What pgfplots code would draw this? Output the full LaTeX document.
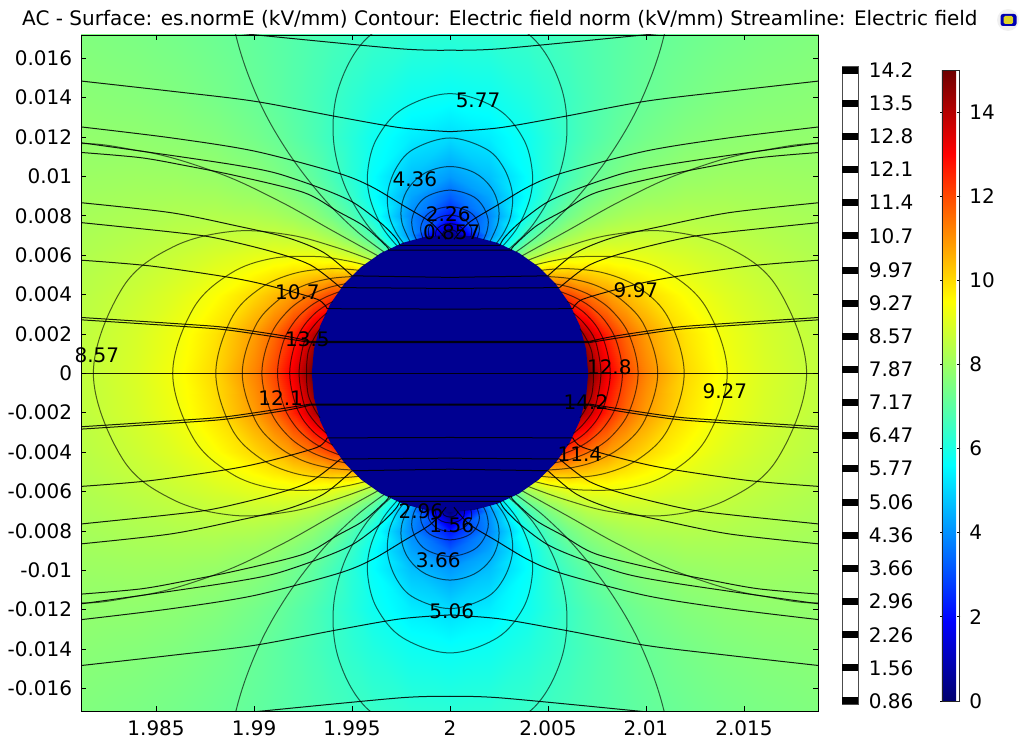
\documentclass[border=0pt]{standalone}
\usepackage{fontspec}
\setmainfont{DejaVu Sans}
\usepackage{pgfplots}
\usepackage{pgfplotstable}
\pgfplotsset{compat=1.18}
\definecolor{discblue}{RGB}{0,0,145}
\pgfplotstableread{
x y v
0 0 0
2 0 0
4 0 0
5 0 0
6 0 17.71
7 0 15
8 0 13.24
9 0 12.04
10 0 11.18
12 0 10.05
14 0 9.38
16 0 8.94
18.9 0 8.54
0 2 0
2 2 0
4 2 0
5 2 18.8
6 2 15.84
7 2 13.88
8 2 12.53
9 2 11.56
10 2 10.85
12 2 9.88
14 2 9.28
16 2 8.88
18.9 2 8.51
0 4 0
2 4 0
4 4 13.7
5 4 12.89
6 4 12.12
7 4 11.46
8 4 10.90
9 4 10.43
10 4 10.03
12 4 9.44
14 4 9.02
16 4 8.72
18.9 4 8.42
0 5 0
2 5 8.9
4 5 10.35
5 5 10.5
6 5 10.43
7 5 10.25
8 5 10.02
9 5 9.79
10 5 9.56
12 5 9.16
14 5 8.85
16 5 8.61
18.9 5 8.36
0 6 0
2 6 5.52
4 6 8.09
5 6 8.73
6 6 9.07
7 6 9.21
8 6 9.23
9 6 9.18
10 6 9.09
12 6 8.88
14 6 8.67
16 6 8.49
18.9 6 8.29
0 7 0
2 7 4.0
4 7 6.72
5 7 7.53
6 7 8.06
7 7 8.39
8 7 8.56
9 7 8.64
10 7 8.66
12 7 8.60
14 7 8.49
16 7 8.36
18.9 7 8.21
0 8 2.2
2 8 3.9
4 8 6.0
5 8 6.79
6 8 7.37
7 8 7.77
8 8 8.03
9 8 8.19
10 8 8.29
12 8 8.34
14 8 8.31
16 8 8.24
18.9 8 8.14
0 9 3.3
2 9 4.3
4 9 5.70
5 9 6.39
6 9 6.93
7 9 7.34
8 9 7.63
9 9 7.84
10 9 7.97
12 9 8.11
14 9 8.14
16 9 8.12
18.9 9 8.06
0 10 4.15
2 10 4.7
4 10 5.65
5 10 6.20
6 10 6.67
7 10 7.05
8 10 7.34
9 10 7.56
10 10 7.72
12 10 7.91
14 10 7.99
16 10 8.01
18.9 10 7.98
0 12 5.1
2 12 5.35
4 12 5.83
5 12 6.17
6 12 6.48
7 12 6.77
8 12 7.01
9 12 7.22
10 12 7.38
12 12 7.61
14 12 7.74
16 12 7.81
18.9 12 7.84
0 14 5.7
2 14 5.8
4 14 6.10
5 14 6.30
6 14 6.51
7 14 6.71
8 14 6.89
9 14 7.05
10 14 7.19
12 14 7.41
14 14 7.56
16 14 7.65
18.9 14 7.72
0 17.3 6.26
2 17.3 6.31
4 17.3 6.46
5 17.3 6.56
6 17.3 6.67
7 17.3 6.78
8 17.3 6.89
9 17.3 6.99
10 17.3 7.09
12 17.3 7.25
14 17.3 7.38
16 17.3 7.48
18.9 17.3 7.57
}\heat
\pgfplotstableread{
x y
6.63 -2.26
6.90 -1.85
7.20 -1.21
7.30 -0.62
7.32 0
7.30 0.62
7.20 1.21
6.90 1.85
6.63 2.26
nan nan
6.30 -3.05
6.77 -2.62
7.30 -1.91
7.55 -1.15
7.70 0
7.55 1.15
7.30 1.91
6.77 2.62
6.30 3.05
nan nan
5.97 -3.65
6.49 -3.35
7.00 -2.94
7.55 -2.27
7.95 -1.36
8.18 0
7.95 1.36
7.55 2.27
7.00 2.94
6.49 3.35
5.97 3.65
nan nan
5.65 -4.14
6.40 -3.84
7.17 -3.38
7.90 -2.68
8.50 -1.61
8.80 0
8.50 1.61
7.90 2.68
7.17 3.38
6.40 3.84
5.65 4.14
nan nan
5.32 -4.55
6.23 -4.34
7.26 -3.91
8.28 -3.16
9.15 -1.93
9.60 0
9.15 1.93
8.28 3.16
7.26 3.91
6.23 4.34
5.32 4.55
nan nan
4.99 -4.91
6.18 -4.80
7.55 -4.42
8.85 -3.65
9.95 -2.36
10.60 0
9.95 2.36
8.85 3.65
7.55 4.42
6.18 4.80
4.99 4.91
nan nan
4.65 -5.23
6.09 -5.31
7.96 -5.07
9.72 -4.29
11.15 -2.79
11.95 0
11.15 2.79
9.72 4.29
7.96 5.07
6.09 5.31
4.65 5.23
nan nan
4.33 -5.50
5.34 -5.73
6.82 -5.93
9.10 -5.83
11.20 -5.07
13.10 -3.29
14.15 0
13.10 3.29
11.20 5.07
9.10 5.83
6.82 5.93
5.34 5.73
4.33 5.50
nan nan
4.00 -5.75
5.86 -6.41
8.21 -7.03
11.09 -7.21
14.15 -6.41
16.70 -4.36
18.20 0
16.70 4.36
14.15 6.41
11.09 7.21
8.21 7.03
5.86 6.41
4.00 5.75
}\contoursH
\pgfplotstableread{
x y
-2.69 6.46
-3.48 7.46
-4.09 8.92
-4.19 10.33
-3.72 11.95
-2.40 13.44
0 14.2
2.40 13.44
3.72 11.95
4.19 10.33
4.09 8.92
3.48 7.46
2.69 6.46
nan nan
-2.36 6.59
-2.78 7.20
-3.11 8.04
-3.17 9.23
-2.70 10.5
-1.81 11.41
0 11.95
1.81 11.41
2.70 10.5
3.17 9.23
3.11 8.04
2.78 7.20
2.36 6.59
nan nan
-2.04 6.70
-2.45 7.64
-2.46 8.56
-2.08 9.46
-1.24 10.19
0 10.5
1.24 10.19
2.08 9.46
2.46 8.56
2.45 7.64
2.04 6.70
nan nan
-1.71 6.79
-1.89 7.22
-1.94 7.84
-1.63 8.56
-1.06 9.04
0 9.3
1.06 9.04
1.63 8.56
1.94 7.84
1.89 7.22
1.71 6.79
nan nan
-1.38 6.86
-1.50 7.32
-1.35 7.83
-0.89 8.25
0 8.46
0.89 8.25
1.35 7.83
1.50 7.32
1.38 6.86
nan nan
-1.06 6.92
-1.11 7.22
-1.03 7.50
-0.64 7.88
0 8.03
0.64 7.88
1.03 7.50
1.11 7.22
1.06 6.92
nan nan
-0.73 6.96
-0.71 7.25
-0.45 7.50
0 7.60
0.45 7.50
0.71 7.25
0.73 6.96
nan nan
-0.40 6.99
-0.31 7.20
0 7.30
0.31 7.20
0.40 6.99
}\contoursV
\pgfplotstableread{
x y
27.2 8.77
20.3 11.48
15.79 11.29
11.88 10.19
8.74 8.76
6.03 7.26
3.67 5.96
nan nan
10.15 26.7
11.39 20.36
10.89 17.02
9.77 13.89
8.30 11.28
6.51 8.95
4.79 7.24
3.35 6.15
nan nan
1.71 18.6
4.30 16.96
5.65 14.6
5.96 12.08
5.42 9.65
4.25 7.57
3.02 6.32
}\contoursQ
\pgfplotstableread{
x y
-11.0 17.3
-9.67 17.16
-2.53 16.48
0 16.41
nan nan
-18.9 14.85
-14.26 14.33
-10.01 13.82
-5.76 13.03
-2.53 12.47
0 12.27
nan nan
-18.9 12.52
-14.26 11.96
-10.01 11.29
-5.76 10.18
-4.05 9.50
-2.35 8.50
-0.98 7.66
-0.2 6.8
nan nan
-18.9 11.72
-14.26 11.07
-10.86 10.56
-8.82 10.15
-6.44 9.34
-4.91 8.66
-3.55 7.65
-2.78 6.89
-2.55 6.5
nan nan
-18.9 11.22
-15.79 10.95
-13.41 10.53
-10.86 10.02
-7.46 9.18
-5.76 8.24
-4.40 7.48
-3.25 6.46
-3.15 6.25
nan nan
-18.9 8.67
-14.26 8.16
-10.86 7.48
-8.31 6.89
-6.44 6.13
-5.0 4.95
nan nan
-18.9 7.66
-14.26 7.18
-12.05 6.89
-9.16 6.20
-7.12 5.50
-5.59 4.35
nan nan
-18.9 5.75
-15.28 5.45
-11.20 4.86
-9.16 4.43
-6.78 3.76
-6.27 3.28
nan nan
-18.9 2.84
-13.50 2.49
-11.37 2.32
-8.48 1.90
-7.12 1.62
nan nan
-18.9 2.72
-13.50 2.37
-11.37 2.20
-8.48 1.78
-7.12 1.56
}\streams
\pgfplotstableread{
x y
-2.55 6.5
0 6.5
nan nan
-3.15 6.25
0 6.25
nan nan
-5.0 4.95
0 4.87
nan nan
-5.59 4.35
0 4.31
nan nan
-6.27 3.28
0 3.26
nan nan
-7.12 1.62
0 1.62
nan nan
-7.12 1.56
0 1.56
}\chords
\begin{document}
\fontsize{20}{24}\selectfont
\begin{tikzpicture}
\path[use as bounding box] (0,0) rectangle (1023pt,745pt);
\node[anchor=base west,inner sep=0pt] at (22pt,719pt) {AC - Surface: es.normE (kV/mm) Contour: Electric field norm (kV/mm) Streamline: Electric field};
\begin{axis}[
  at={(81pt,34pt)},anchor=south west,scale only axis,width=737pt,height=676pt,
  xmin=-18.83,xmax=18.78,ymin=-17.15,ymax=17.18,
  axis on top,clip mode=individual,
  unbounded coords=jump,
  colormap={cmrainbow}{rgb255(0pt)=(0,0,110);rgb255(190pt)=(0,0,255);rgb255(560pt)=(0,255,255);rgb255(950pt)=(255,255,0);rgb255(1300pt)=(255,0,0);rgb255(1500pt)=(110,0,0)},
  point meta min=0,point meta max=15,
  tick align=inside,major tick length=5pt,
  tick style={black,line width=0.6pt},
  axis line style={black,line width=0.8pt},
  xtick={-15,-10,-5,0,5,10,15},
  xticklabels={1.985,1.99,1.995,2,2.005,2.01,2.015},
  ytick={-16,-14,-12,-10,-8,-6,-4,-2,0,2,4,6,8,10,12,14,16},
  yticklabels={-0.016,-0.014,-0.012,-0.01,-0.008,-0.006,-0.004,-0.002,0,0.002,0.004,0.006,0.008,0.01,0.012,0.014,0.016},
  xticklabel style={yshift=-3pt},
  yticklabel style={xshift=-2pt},
  colorbar,
  colorbar style={
    at={(1.1682,0.0149)},anchor=south west,
    width=17pt,height=631pt,
    ytick={0,2,4,6,8,10,12,14},
    yticklabels={0,2,4,6,8,10,12,14},
    major tick length=3pt,tick align=center,
    yticklabel style={xshift=2pt},
    axis line style={black!85,line width=0.8pt},
  },
]
\addplot[surf,shader=interp,mesh/rows=12,mesh/cols=13,point meta=\thisrow{v}] table[x expr=\thisrow{x},y expr=\thisrow{y}] {\heat};
\addplot[surf,shader=interp,mesh/rows=12,mesh/cols=13,point meta=\thisrow{v}] table[x expr=-\thisrow{x},y expr=\thisrow{y}] {\heat};
\addplot[surf,shader=interp,mesh/rows=12,mesh/cols=13,point meta=\thisrow{v}] table[x expr=\thisrow{x},y expr=-\thisrow{y}] {\heat};
\addplot[surf,shader=interp,mesh/rows=12,mesh/cols=13,point meta=\thisrow{v}] table[x expr=-\thisrow{x},y expr=-\thisrow{y}] {\heat};
\addplot[fill=discblue,draw=none] coordinates {
(7.05,0)(6.943,1.224)(6.625,2.411)(6.105,3.525)(5.401,4.532)(4.532,5.401)(3.525,6.105)(2.411,6.625)(1.224,6.943)
(0,7.05)(-1.224,6.943)(-2.411,6.625)(-3.525,6.105)(-4.532,5.401)(-5.401,4.532)(-6.105,3.525)(-6.625,2.411)(-6.943,1.224)
(-7.05,0)(-6.943,-1.224)(-6.625,-2.411)(-6.105,-3.525)(-5.401,-4.532)(-4.532,-5.401)(-3.525,-6.105)(-2.411,-6.625)(-1.224,-6.943)
(0,-7.05)(1.224,-6.943)(2.411,-6.625)(3.525,-6.105)(4.532,-5.401)(5.401,-4.532)(6.105,-3.525)(6.625,-2.411)(6.943,-1.224)
(7.05,0)} --cycle;
\pgfplotsset{cstyle/.style={black,opacity=0.62,line width=1pt,smooth,tension=0.6,no markers}}
\addplot[cstyle] table[x expr=\thisrow{x},y expr=\thisrow{y}] {\contoursH};
\addplot[cstyle] table[x expr=-\thisrow{x},y expr=\thisrow{y}] {\contoursH};
\addplot[cstyle] table[x expr=\thisrow{x},y expr=\thisrow{y}] {\contoursV};
\addplot[cstyle] table[x expr=\thisrow{x},y expr=-\thisrow{y}] {\contoursV};
\addplot[cstyle] table[x expr=\thisrow{x},y expr=\thisrow{y}] {\contoursQ};
\addplot[cstyle] table[x expr=-\thisrow{x},y expr=\thisrow{y}] {\contoursQ};
\addplot[cstyle] table[x expr=\thisrow{x},y expr=-\thisrow{y}] {\contoursQ};
\addplot[cstyle] table[x expr=-\thisrow{x},y expr=-\thisrow{y}] {\contoursQ};
\pgfplotsset{sstyle/.style={black,opacity=0.88,line width=1pt,smooth,tension=0.5,no markers}}
\pgfplotsset{chstyle/.style={black,opacity=0.88,line width=1pt,no markers}}
\addplot[sstyle] table[x expr=\thisrow{x},y expr=\thisrow{y}] {\streams};
\addplot[sstyle] table[x expr=-\thisrow{x},y expr=\thisrow{y}] {\streams};
\addplot[sstyle] table[x expr=\thisrow{x},y expr=-\thisrow{y}] {\streams};
\addplot[sstyle] table[x expr=-\thisrow{x},y expr=-\thisrow{y}] {\streams};
\addplot[chstyle] table[x expr=\thisrow{x},y expr=\thisrow{y}] {\chords};
\addplot[chstyle] table[x expr=-\thisrow{x},y expr=\thisrow{y}] {\chords};
\addplot[chstyle] table[x expr=\thisrow{x},y expr=-\thisrow{y}] {\chords};
\addplot[chstyle] table[x expr=-\thisrow{x},y expr=-\thisrow{y}] {\chords};
\addplot[chstyle] coordinates {(-18.9,0)(18.9,0)};
\node at (axis cs:1.43,13.88) {5.77};
\node at (axis cs:-1.79,9.85) {4.36};
\node at (axis cs:-0.09,8.09) {2.26};
\node at (axis cs:0.09,7.14) {0.857};
\node at (axis cs:-7.79,4.11) {10.7};
\node at (axis cs:-7.28,1.73) {13.5};
\node at (axis cs:-18.02,0.93) {8.57};
\node at (axis cs:-8.64,-1.25) {12.1};
\node at (axis cs:9.49,4.2) {9.97};
\node at (axis cs:8.13,0.32) {12.8};
\node at (axis cs:14.03,-0.9) {9.27};
\node at (axis cs:6.94,-1.47) {14.2};
\node at (axis cs:6.63,-4.1) {11.4};
\node at (axis cs:-1.49,-6.98) {2.96};
\node at (axis cs:0.09,-7.7) {1.56};
\node at (axis cs:-0.6,-9.48) {3.66};
\node at (axis cs:0.09,-12.06) {5.06};
\end{axis}
\begin{axis}[
  at={(842pt,40.5pt)},anchor=south west,scale only axis,width=16pt,height=637.8pt,
  xmin=0,xmax=1,ymin=0.784,ymax=14.276,
  xtick=\empty,
  ytick={0.86,1.56,2.26,2.96,3.66,4.36,5.06,5.77,6.47,7.17,7.87,8.57,9.27,9.97,10.7,11.4,12.1,12.8,13.5,14.2},
  yticklabels={0.86,1.56,2.26,2.96,3.66,4.36,5.06,5.77,6.47,7.17,7.87,8.57,9.27,9.97,10.7,11.4,12.1,12.8,13.5,14.2},
  yticklabel pos=right,major tick length=0pt,
  yticklabel style={xshift=4pt},
  axis line style={black!70,line width=1pt},
]
\addplot[xcomb,black,line width=7pt,no markers] coordinates {
(1,0.86)(1,1.56)(1,2.26)(1,2.96)(1,3.66)(1,4.36)(1,5.06)(1,5.77)(1,6.47)(1,7.17)(1,7.87)(1,8.57)(1,9.27)(1,9.97)(1,10.7)(1,11.4)(1,12.1)(1,12.8)(1,13.5)(1,14.2)};
\end{axis}
% small logo at the upper right
\fill[black!6] (1008pt,725pt) circle (11pt);
\fill[blue!70!black,rounded corners=2.5pt] (1000.5pt,719pt) rectangle (1016.5pt,731pt);
\fill[yellow!85!black,rounded corners=1.5pt] (1003.5pt,721pt) rectangle (1013pt,729pt);
\end{tikzpicture}
\end{document}
